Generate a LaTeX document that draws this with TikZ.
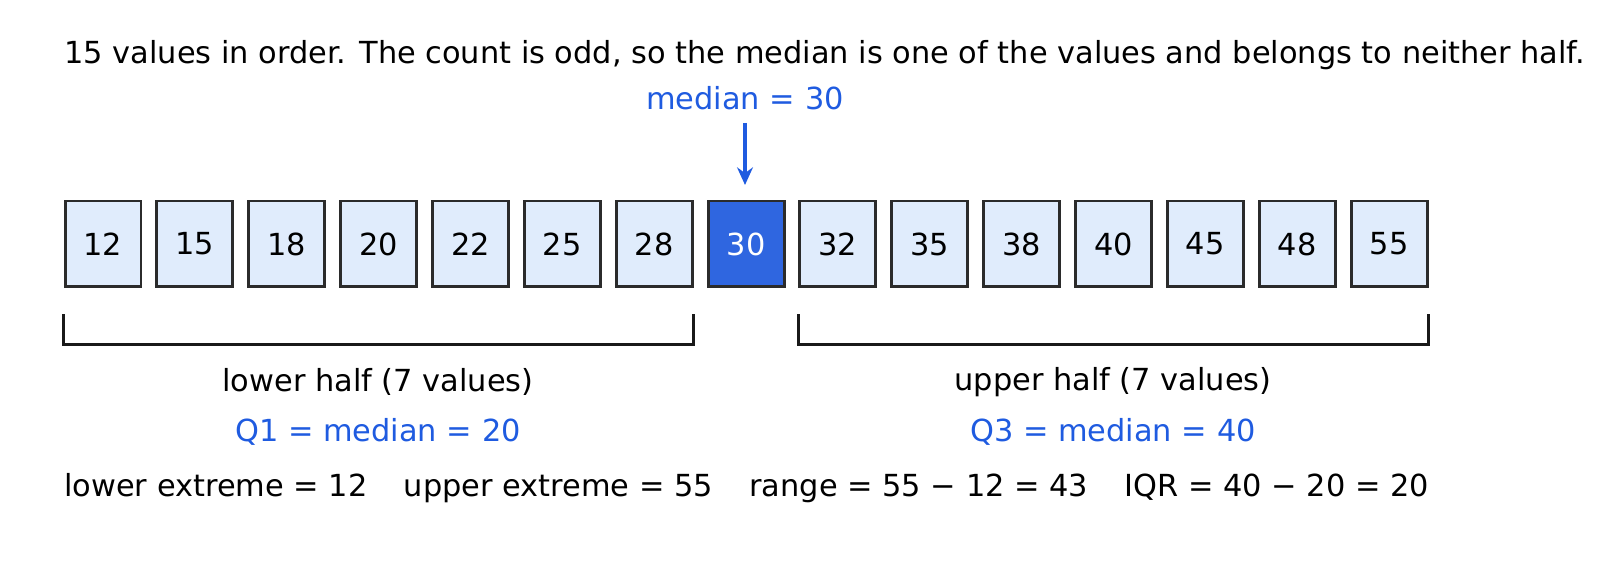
\documentclass[tikz,border=0pt]{standalone}
\usepackage{fontspec}
\setmainfont{DejaVu Sans}
\usetikzlibrary{arrows.meta,positioning}
\definecolor{cellfill}{HTML}{E0ECFC}
\definecolor{hifill}{HTML}{2F66E0}
\definecolor{accent}{HTML}{1F5BE0}
\definecolor{edge}{HTML}{2B2B2B}
\begin{document}
\begin{tikzpicture}[x=0.02cm,y=0.02cm,semithick]
\tikzset{font=\fontsize{17.3pt}{20}\selectfont}
\tikzstyle{cell}=[draw=edge,line width=1.7pt,fill=cellfill,minimum width=1.52cm,minimum height=1.72cm,inner sep=0pt]
\tikzstyle{hilite}=[text=accent]
\tikzstyle{brace}=[line width=1.7pt,draw=black!90]

  \node[anchor=west] (title) at (58,508) {15 values in order. The count is odd, so the median is one of the values and belongs to neither half.};
  \node[hilite] (med) at (745,465) {median = 30};

  \foreach \v [count=\i from 0] in {12,15,18,20,22,25,28,30,32,35,38,40,45,48,55}
    \node[cell] (c\i) at (103+91.86*\i,319) {\v};
  \node[cell,fill=hifill,text=white] at (c7) {30};

  \coordinate (top) at (745,440);
  \coordinate (tip) at (745,378);
  \draw[-{Stealth[length=10pt,width=9pt]},line width=1.8pt,draw=accent] (top) -- (tip);

  % brackets
  \draw[brace] ([yshift=-0.52cm]c0.south west) -- ([yshift=-1.12cm]c0.south west) -- ([yshift=-1.12cm]c6.south east) -- ([yshift=-0.52cm]c6.south east);
  \draw[brace] ([yshift=-0.52cm]c8.south west) -- ([yshift=-1.12cm]c8.south west) -- ([yshift=-1.12cm]c14.south east) -- ([yshift=-0.52cm]c14.south east);

  \node (low) at (378,181) {lower half (7 values)};
  \node[hilite] (q1) at (378,131) {Q1 = median = 20};
  \node (up) at (1113,181) {upper half (7 values)};
  \node[hilite] (q3) at (1113,131) {Q3 = median = 40};

  \node[anchor=west] (stats) at (58,75) {lower extreme = 12\hspace{1.2em}upper extreme = 55\hspace{1.2em}range = 55 − 12 = 43\hspace{1.2em}IQR = 40 − 20 = 20};

  \pgfresetboundingbox
  \useasboundingbox (0,0) rectangle (1607,563);
\end{tikzpicture}
\end{document}
